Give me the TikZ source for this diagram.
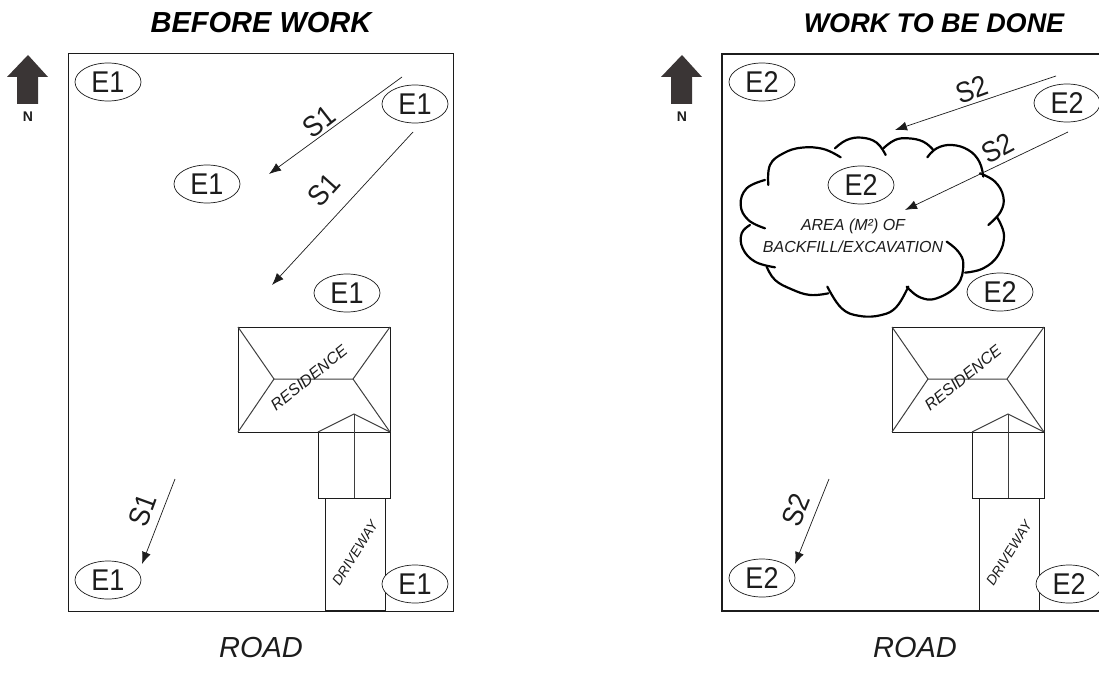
\documentclass[tikz,border=0pt]{standalone}
\usepackage{fontspec}
\setmainfont{Liberation Sans}
\newfontfamily\tagf[FakeStretch=0.9]{Liberation Sans}
\usetikzlibrary{shapes.geometric,arrows.meta}
\definecolor{ink}{HTML}{1C1C1C}
\definecolor{northc}{HTML}{3A3535}
\newcommand{\fs}[1]{\fontsize{#1}{#1}\selectfont}
\tikzset{
  frame/.style={draw=ink,line width=1pt},
  thinl/.style={draw=ink!85,line width=1pt},
  tag/.style={ellipse,draw=ink,line width=0.7pt,fill=white,minimum width=66pt,minimum height=38pt,inner sep=0pt,font=\tagf\fs{30},text=ink},
  slope/.style={draw=ink,line width=0.7pt,-{Latex[length=12pt,width=9pt]}},
  slabel/.style={font=\tagf\fs{29},text=ink,inner sep=0pt},
  title/.style={text=black,inner sep=0pt},
  road/.style={font=\fs{29}\itshape,text=ink,inner sep=0pt},
  small/.style={font=\fs{16}\itshape,text=ink,inner sep=0pt},
  cloudl/.style={draw=black,line width=2.2pt,line cap=round},
  north/.style={fill=northc,draw=none}
}
\begin{document}
\begin{tikzpicture}[x=1pt,y=-1pt]
\clip (0,0) rectangle (1099,682);
\useasboundingbox (0,0) rectangle (1099,682);
% titles
\node[title,font=\fs{29}\bfseries\itshape] (t1) at (261,23) {BEFORE WORK};
\node[title,font=\fs{27}\bfseries\itshape] (t2) at (934,23) {WORK TO BE DONE};
\node[road] (r1) at (261,648) {ROAD};
\node[road] (r2) at (915,648) {ROAD};
% north arrows
\foreach \dx/\nm in {0/na,654/nb}{
  \begin{scope}[shift={(\dx,0)}]
    \fill[north] (28,55) -- (48,77) -- (38,77) -- (38,104) -- (17,104) -- (17,77) -- (7,77) -- cycle;
    \node[font=\fs{14}\bfseries,text=ink,inner sep=0pt] (\nm) at (28,117) {N};
  \end{scope}
}
% frames
\draw[frame] (68,54) rectangle (453,611);
\draw[frame,line width=1.2pt] (722,54) rectangle (1107,611);
% houses
\foreach \dx in {0,654}{
  \begin{scope}[shift={(\dx,0)}]
    \draw[frame] (238,327) rectangle (390,432);
    \draw[thinl] (238,327) -- (274,379) -- (353,379) -- (390,327);
    \draw[thinl] (238,432) -- (274,379);
    \draw[thinl] (353,379) -- (390,432);
    \draw[frame] (318,432) rectangle (390,498);
    \draw[thinl] (318,432) -- (354,414) -- (390,432);
    \draw[thinl] (354,414) -- (354,498);
    \draw[frame] (325,498) -- (325,610) -- (385,610) -- (385,498);
    \node[small,rotate=39] at (309,378) {RESIDENCE};
    \node[small,rotate=58,font=\fs{14}\itshape] at (355,553) {DRIVEWAY};
  \end{scope}
}
% cloud
\begin{scope}[shift={(720,60)},x=0.3333pt,y=-0.3333pt]
  \draw[cloudl] plot[smooth,tension=0.7] coordinates {(145,375) (150,315) (190,280) (245,263) (310,267) (362,292)};
  \draw[cloudl] plot[smooth,tension=0.7] coordinates {(345,265) (380,240) (425,233) (470,248) (497,285)};
  \draw[cloudl] plot[smooth,tension=0.7] coordinates {(490,265) (525,240) (565,235) (610,245) (640,270)};
  \draw[cloudl] plot[smooth,tension=0.7] coordinates {(622,292) (650,265) (695,255) (745,270) (778,305) (790,350)};
  \draw[cloudl] plot[smooth,tension=0.7] coordinates {(780,340) (825,365) (850,410) (842,455) (805,495)};
  \draw[cloudl] plot[smooth,tension=0.7] coordinates {(830,470) (852,525) (835,585) (790,625) (735,638)};
  \draw[cloudl] plot[smooth,tension=0.7] coordinates {(680,545) (715,575) (730,615) (712,675) (650,715) (600,712) (560,680)};
  \draw[cloudl] plot[smooth,tension=0.7] coordinates {(565,680) (530,740) (485,765) (420,768) (365,745) (322,680)};
  \draw[cloudl] plot[smooth,tension=0.7] coordinates {(325,700) (270,705) (215,688) (165,660) (140,620)};
  \draw[cloudl] plot[smooth,tension=0.7] coordinates {(165,622) (105,605) (68,565) (65,520) (90,495)};
  \draw[cloudl] plot[smooth,tension=0.7] coordinates {(135,505) (85,480) (62,435) (80,385) (135,360)};
\end{scope}
\node[small] (a1) at (853,226) {AREA (M²) OF};
\node[small] (a2) at (853,247) {BACKFILL/EXCAVATION};
% tags
\node[tag] (e1a) at (108,82) {E1};
\node[tag] (e1b) at (415,104) {E1};
\node[tag] (e1c) at (207,184) {E1};
\node[tag] (e1d) at (347,293) {E1};
\node[tag] (e1e) at (108,580) {E1};
\node[tag] (e1f) at (415,584) {E1};
\node[tag] (e2a) at (762,82) {E2};
\node[tag] (e2b) at (1067,103) {E2};
\node[tag] (e2c) at (861,185) {E2};
\node[tag] (e2d) at (1000,292) {E2};
\node[tag] (e2e) at (762,578) {E2};
\node[tag] (e2f) at (1069,584) {E2};
% slope arrows
\coordinate (s1as) at (402,77);  \coordinate (s1ae) at (269,174);
\coordinate (s1bs) at (413,132); \coordinate (s1be) at (272,285);
\coordinate (s1cs) at (175,479); \coordinate (s1ce) at (142,564);
\coordinate (s2as) at (1056,76); \coordinate (s2ae) at (895,130);
\coordinate (s2bs) at (1068,132);\coordinate (s2be) at (905,210);
\coordinate (s2cs) at (829,479); \coordinate (s2ce) at (795,564);
\draw[slope] (s1as) -- (s1ae);
\draw[slope] (s1bs) -- (s1be);
\draw[slope] (s1cs) -- (s1ce);
\draw[slope] (s2as) -- (s2ae);
\draw[slope] (s2bs) -- (s2be);
\draw[slope] (s2cs) -- (s2ce);
\node[slabel,rotate=38] (l1) at (319,122) {S1};
\node[slabel,rotate=48] (l2) at (324,190) {S1};
\node[slabel,rotate=70] (l3) at (143,510) {S1};
\node[slabel,rotate=20] (l4) at (972,90) {S2};
\node[slabel,rotate=28] (l5) at (998,148) {S2};
\node[slabel,rotate=68] (l6) at (796,510) {S2};
\end{tikzpicture}
\end{document}
